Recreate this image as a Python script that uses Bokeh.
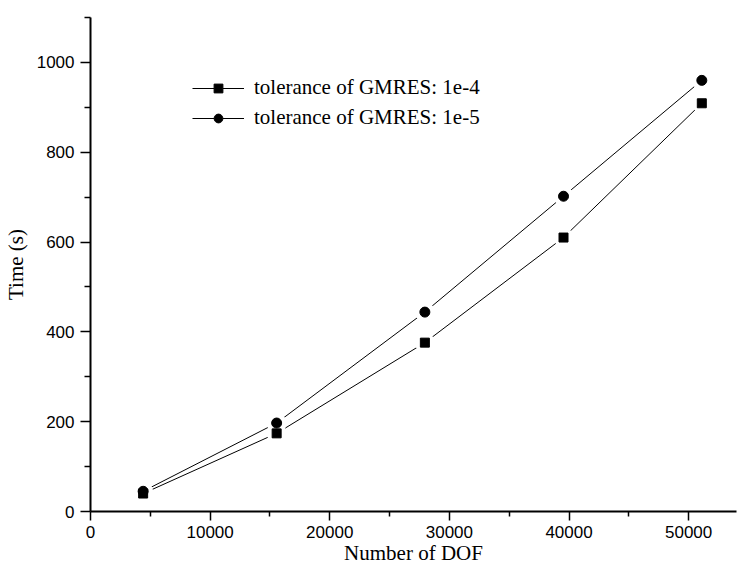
from bokeh.plotting import figure
from bokeh.models import Range1d, FixedTicker, Legend, LegendItem
from bokeh.embed import file_html
from bokeh.resources import INLINE

# ---- data ----
dof = [4400, 15560, 27950, 39540, 51100]
time_tol_1e4 = [40, 174, 376, 610, 909]
time_tol_1e5 = [45, 197, 444, 702, 960]
series_labels = ["tolerance of GMRES: 1e-4", "tolerance of GMRES: 1e-5"]
x_major = [0, 10000, 20000, 30000, 40000, 50000]
x_minor = [5000, 15000, 25000, 35000, 45000]
y_major = [0, 200, 400, 600, 800, 1000]
y_minor = [100, 300, 500, 700, 900, 1100]
x_label = "Number of DOF"
y_label = "Time (s)"

p = figure(width=738, height=567, output_backend="svg", toolbar_location=None,
           x_range=Range1d(0, 54000), y_range=Range1d(0, 1100),
           min_border_left=87, min_border_right=2, min_border_top=17, min_border_bottom=56)
p.outline_line_color = None
p.grid.visible = False
p.background_fill_color = "white"

l1 = p.line(dof, time_tol_1e4, line_color="black", line_width=1)
l2 = p.line(dof, time_tol_1e5, line_color="black", line_width=1)
w1 = p.scatter(dof, time_tol_1e4, marker="circle", size=20, fill_color="white", fill_alpha=1.0, line_color=None)
w2 = p.scatter(dof, time_tol_1e5, marker="circle", size=20, fill_color="white", fill_alpha=1.0, line_color=None)
m1 = p.scatter(dof, time_tol_1e4, marker="square", size=9, fill_color="black", line_color="black")
m2 = p.scatter(dof, time_tol_1e5, marker="circle", size=10, fill_color="black", line_color="black")

p.xaxis.ticker = FixedTicker(ticks=x_major, minor_ticks=x_minor)
p.yaxis.ticker = FixedTicker(ticks=y_major, minor_ticks=y_minor)
p.xaxis.axis_label = x_label
p.yaxis.axis_label = y_label

for ax in (p.xaxis, p.yaxis):
    ax.axis_line_width = 2
    ax.axis_line_color = "black"
    ax.major_tick_line_color = "black"
    ax.minor_tick_line_color = "black"
    ax.major_tick_line_width = 1.5
    ax.minor_tick_line_width = 1.5
    ax.major_tick_in = 0
    ax.minor_tick_in = 0
    ax.major_label_text_font = "Liberation Sans"
    ax.major_label_text_font_size = "17px"
    ax.major_label_text_color = "black"
    ax.axis_label_text_font = "Liberation Serif"
    ax.axis_label_text_font_size = "21px"
    ax.axis_label_text_font_style = "normal"
    ax.axis_label_text_color = "black"

p.xaxis.major_tick_out = 9
p.xaxis.minor_tick_out = 5
p.xaxis.major_label_standoff = 5
p.xaxis.axis_label_standoff = 0
p.yaxis.major_tick_out = 10
p.yaxis.minor_tick_out = 6
p.yaxis.major_label_standoff = 6
p.yaxis.axis_label_standoff = 6

legend = Legend(items=[LegendItem(label=series_labels[0], renderers=[l1, w1, m1]),
                       LegendItem(label=series_labels[1], renderers=[l2, w2, m2])],
                location=(102, 381), glyph_width=52, glyph_height=22, label_height=22,
                spacing=5, padding=0, margin=0, label_standoff=10,
                border_line_color=None, background_fill_alpha=0,
                label_text_font="Liberation Serif", label_text_font_size="21px",
                label_text_color="black")
p.add_layout(legend, "center")

open("out.html", "w").write(file_html(p, INLINE))
